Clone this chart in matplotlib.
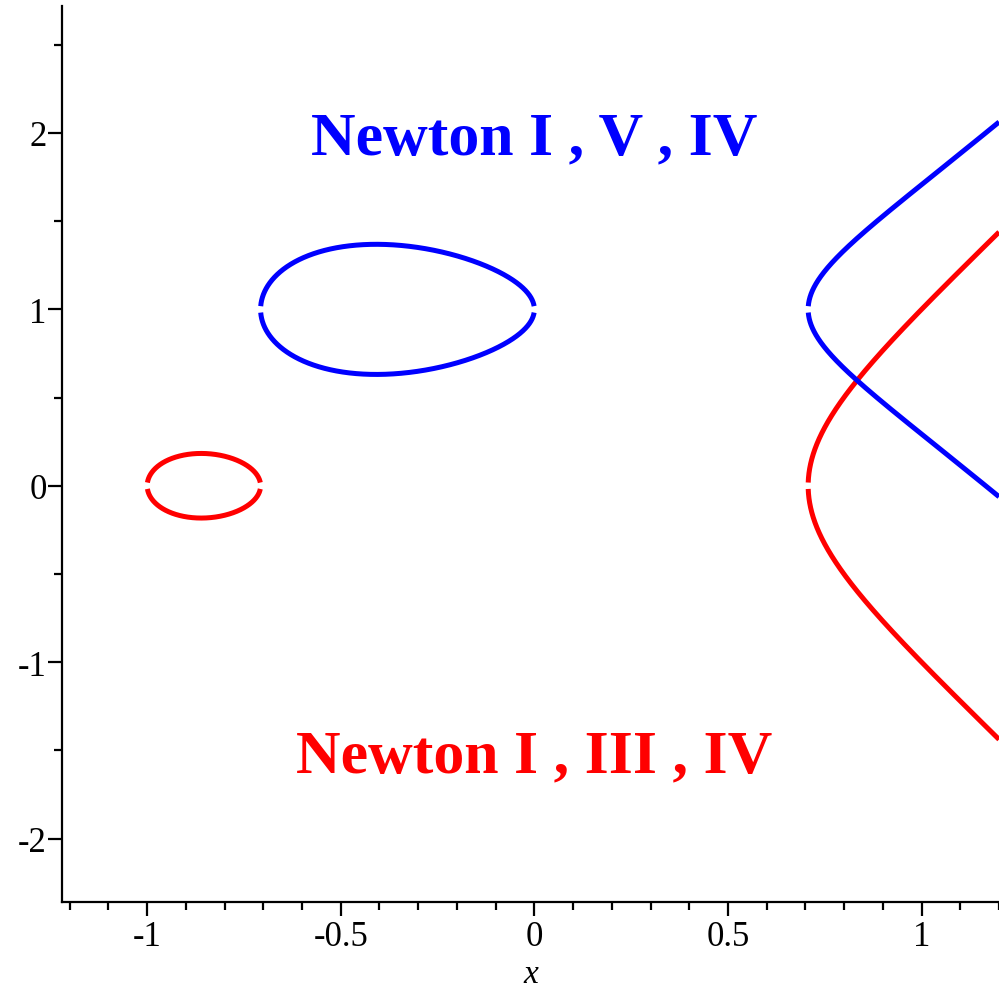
import numpy as np
import matplotlib
matplotlib.use("Agg")
import matplotlib.pyplot as plt
from matplotlib.ticker import MultipleLocator

# cubic curves  (y - yc)^2 = (x - r1)(x - r2)(x - r3), roots
red_roots = [-1.0, -0.7071, 0.7071]
red_center = 0.0
blue_roots = [-0.7071, 0.0, 0.7071]
blue_center = 1.0

red_label = "Newton I , III , IV"
blue_label = "Newton I , V , IV"

x_ticks = [-1, -0.5, 0, 0.5, 1]
x_ticklabels = ["-1", "-0.5", "0", "0.5", "1"]
y_ticks = [-2, -1, 0, 1, 2]
y_ticklabels = ["-2", "-1", "0", "1", "2"]

XMIN, XMAX = -1.22, 1.2
YMIN, YMAX = -2.36, 2.72
GAP = 0.018  # small break where upper and lower halves meet (Maple artefact)


def branches(roots, yc):
    """Return list of (x, y) pieces for the real part of the cubic."""
    r = sorted(roots)
    pieces = []
    # closed oval between first two roots, open branch from third root
    spans = [(r[0], r[1]), (r[2], XMAX + 0.05)]
    for a, b in spans:
        t = np.linspace(0, np.pi, 4000)
        if b > XMAX:
            x = a + (b - a) * (1 - np.cos(t / 2))
        else:
            x = a + (b - a) * (1 - np.cos(t)) / 2
        f = np.prod([x - q for q in r], axis=0)
        h = np.sqrt(np.clip(f, 0, None))
        keep = h > GAP
        # split into connected runs so each half has a clean break
        idx = np.where(keep)[0]
        runs = np.split(idx, np.where(np.diff(idx) != 1)[0] + 1)
        for run in runs:
            if len(run) < 2:
                continue
            pieces.append((x[run], yc + h[run]))
            pieces.append((x[run], yc - h[run]))
    return pieces


fig = plt.figure(figsize=(9.99, 9.95), dpi=100)
ax = fig.add_axes([62 / 999, 92 / 995, 1 - 62 / 999, (995 - 92 - 7) / 995])

for xs, ys in branches(red_roots, red_center):
    ax.plot(xs, ys, color="#ff0000", lw=3.6, solid_capstyle="butt")
for xs, ys in branches(blue_roots, blue_center):
    ax.plot(xs, ys, color="#0000ff", lw=3.6, solid_capstyle="butt")

ax.text(0, 1.887, blue_label, color="#0000ff", fontsize=44.5, fontweight="bold",
        family="Liberation Serif", ha="center", va="baseline")
ax.text(0, -1.62, red_label, color="#ff0000", fontsize=44.5, fontweight="bold",
        family="Liberation Serif", ha="center", va="baseline")

ax.set_xlim(XMIN, XMAX)
ax.set_ylim(YMIN, YMAX)

for s in ["top", "right"]:
    ax.spines[s].set_visible(False)
for s in ["left", "bottom"]:
    ax.spines[s].set_linewidth(1.6)

ax.set_xticks(x_ticks)
ax.set_xticklabels(x_ticklabels)
ax.set_yticks(y_ticks)
ax.set_yticklabels(y_ticklabels)
ax.xaxis.set_minor_locator(MultipleLocator(0.1))
ax.yaxis.set_minor_locator(MultipleLocator(0.5))
ax.tick_params(which="major", length=10, width=1.6, labelsize=25)
ax.tick_params(axis="x", which="major", pad=3)
ax.tick_params(axis="y", which="major", pad=1)
ax.tick_params(which="minor", length=5.5, width=1.6)
for lab in ax.get_xticklabels() + ax.get_yticklabels():
    lab.set_family("Liberation Serif")

ax.set_xlabel("x", fontsize=24, family="Liberation Serif", style="italic", labelpad=4)

fig.savefig("out.png", dpi=100)
